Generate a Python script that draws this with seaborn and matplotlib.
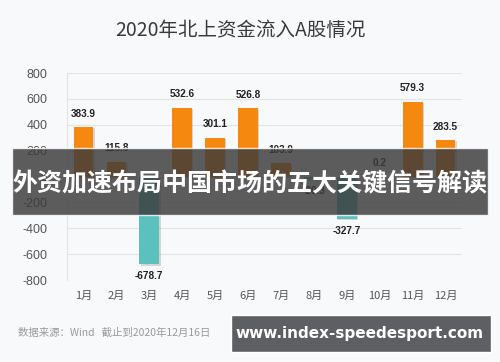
import matplotlib.pyplot as plt
import matplotlib.patheffects as pe
from matplotlib.patches import Rectangle
import pandas as pd
import seaborn as sns

months = ["1月", "2月", "3月", "4月", "5月", "6月", "7月", "8月", "9月", "10月", "11月", "12月"]
flows = [383.9, 115.8, -678.7, 532.6, 301.1, 526.8, 103.9, -20.3, -327.7, 0.2, 579.3, 283.5]
yticks = [800, 600, 400, 200, 0, -200, -400, -600, -800]

title = "2020年北上资金流入A股情况"
banner = "外资加速布局中国市场的五大关键信号解读"
source = "数据来源：Wind   截止到2020年12月16日"
site = "www.index-speedesport.com"

df = pd.DataFrame({"month": months, "flow": flows})
df["sign"] = ["in" if v >= 0 else "out" for v in flows]

sns.set_style("white")
plt.rcParams["font.family"] = ["Noto Sans CJK SC", "DejaVu Sans"]

bg = "#f8f9fb"
fig = plt.figure(figsize=(5, 3.62), dpi=100, facecolor=bg)
ax = fig.add_axes([0.134, 0.2265, 0.79, 0.5715], facecolor=bg)

sns.barplot(
    data=df, x="month", y="flow", hue="sign",
    palette={"in": "#f5890f", "out": "#5cc0bf"}, saturation=1,
    width=0.6, dodge=False, legend=False, ax=ax, zorder=3,
    linewidth=0, edgecolor="none",
)
# soft drop shadow like the original
for p in ax.patches:
    p.set_path_effects([pe.SimplePatchShadow(offset=(1, -1), shadow_rgbFace="#666666", alpha=0.25),
                        pe.Normal()])

ax.set_ylim(-800, 800)
ax.set_xlim(-0.5, 11.5)
ax.set_yticks(yticks)
ax.set_yticklabels([str(t) for t in yticks], family="Liberation Sans", fontsize=9, color="#555555")
ax.tick_params(axis="x", labelsize=8, labelcolor="#555555", length=0, pad=8)
ax.tick_params(axis="y", length=0, pad=14)
ax.grid(axis="y", color="#e2e4e8", linewidth=0.8, zorder=0)
ax.set_xlabel("")
ax.set_ylabel("")
for s in ["top", "right", "bottom"]:
    ax.spines[s].set_visible(False)
ax.spines["left"].set_color("#e2e4e8")

for i, v in enumerate(flows):
    off = 6 if v >= 0 else -5
    ax.annotate(f"{v:.1f}", (i, v), xytext=(0, off), textcoords="offset points",
                ha="center", va="bottom" if v >= 0 else "top",
                fontsize=7.2, fontweight="bold", color="#222222", family="Liberation Sans")

fig.text(0.48, 0.915, title, ha="center", va="center", fontsize=14, color="#3a3a3a")
fig.text(0.036, 0.08, source, ha="left", va="center", fontsize=7.5, color="#9a9a9a")

# dark overlay banner
fig.patches.append(Rectangle((0.024, 0.405), 0.952, 0.185, transform=fig.transFigure,
                             facecolor="#3a3a3a", alpha=0.82, zorder=10))
fig.text(0.5, 0.49, banner, ha="center", va="center", fontsize=18, fontweight="bold",
         color="white", zorder=11)

# site watermark
fig.patches.append(Rectangle((0.462, 0.028), 0.52, 0.102, transform=fig.transFigure,
                             facecolor="#5e5f62", zorder=10))
fig.text(0.72, 0.079, site, ha="center", va="center", fontsize=11, fontweight="bold",
         color="white", family="DejaVu Sans", zorder=11)

plt.savefig("out.png", dpi=100, facecolor=bg)
plt.close()
